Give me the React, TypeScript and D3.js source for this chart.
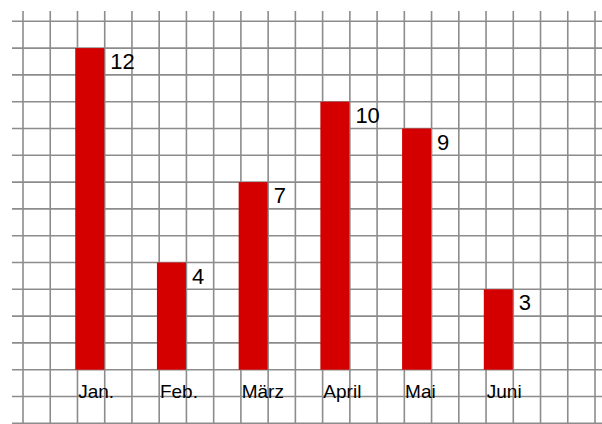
import React, { useRef, useEffect } from "react";
import * as d3 from "d3";

const months = ["Jan.", "Feb.", "März", "April", "Mai", "Juni"];
const counts = [12, 4, 7, 10, 9, 3];

const App = () => {
  const svgRef = useRef<SVGSVGElement>(null);
  const width = 602;
  const height = 424;

  useEffect(() => {
    const svg = d3.select(svgRef.current);
    svg.selectAll("*").remove();

    // grid paper: one square per unit
    const xGrid = d3.scaleLinear().domain([0, 21]).range([23, 595]);
    const yScale = d3.scaleLinear().domain([-2, 13]).range([423.3, 21.3]);

    const xBand = d3.scaleBand()
      .domain(months)
      .range([xGrid(0.95), xGrid(18.95)])
      .paddingInner(0.645)
      .paddingOuter(0.3225);

    const grid = svg.append("g")
      .attr("stroke", "#8c8c8c")
      .attr("stroke-width", 1.6);

    grid.selectAll("line.v")
      .data(d3.range(0, 22))
      .enter()
      .append("line")
      .attr("class", "v")
      .attr("x1", d => xGrid(d))
      .attr("x2", d => xGrid(d))
      .attr("y1", 11)
      .attr("y2", height);

    grid.selectAll("line.h")
      .data(d3.range(-2, 14))
      .enter()
      .append("line")
      .attr("class", "h")
      .attr("x1", 12)
      .attr("x2", width)
      .attr("y1", d => yScale(d))
      .attr("y2", d => yScale(d));

    const data = months.map((m, i) => ({ month: m, value: counts[i] }));

    svg.append("g")
      .selectAll("rect")
      .data(data)
      .enter()
      .append("rect")
      .attr("x", d => xBand(d.month)!)
      .attr("y", d => yScale(d.value))
      .attr("width", xBand.bandwidth())
      .attr("height", d => yScale(0) - yScale(d.value))
      .attr("fill", "#d40000");

    svg.append("g")
      .selectAll("text")
      .data(data)
      .enter()
      .append("text")
      .attr("x", d => xBand(d.month)! + xBand.bandwidth() + 6)
      .attr("y", d => yScale(d.value) + 21)
      .attr("font-family", "'Liberation Sans', Arial, sans-serif")
      .attr("font-size", 22)
      .attr("fill", "#000")
      .text(d => d.value);

    svg.append("g")
      .selectAll("text")
      .data(data)
      .enter()
      .append("text")
      .attr("x", d => xBand(d.month)! + 3)
      .attr("y", yScale(-1) + 1)
      .attr("font-family", "'Liberation Sans', Arial, sans-serif")
      .attr("font-size", 19)
      .attr("fill", "#000")
      .text(d => d.month);
  }, []);

  return (
    <div style={{ position: "fixed", left: 0, top: 0, background: "#fff" }}>
      <svg ref={svgRef} width={width} height={height} style={{ display: "block" }} />
    </div>
  );
};

export default App;
